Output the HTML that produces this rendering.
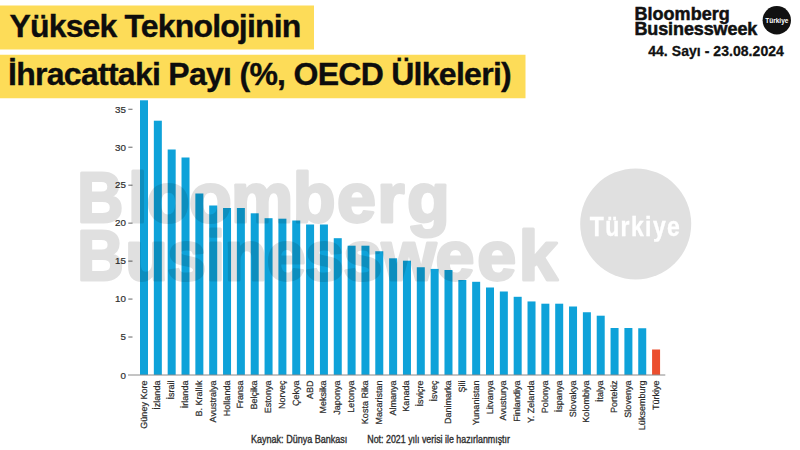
<!DOCTYPE html>
<html><head><meta charset="utf-8">
<style>
html,body{margin:0;padding:0;background:#fff;}
body{width:800px;height:450px;position:relative;overflow:hidden;font-family:"Liberation Sans",Arial,sans-serif;}
svg{position:absolute;left:0;top:0;}
</style></head><body>
<svg width="800" height="450" viewBox="0 0 800 450">
<g font-family="Liberation Sans, Arial, sans-serif">
<rect x="0" y="5.5" width="314" height="44" fill="#fddc58"/>
<rect x="0" y="54.75" width="525.5" height="43.5" fill="#fddc58"/>
<g font-weight="bold" font-size="32" fill="#0d0d0d" stroke="#0d0d0d" stroke-width="0.35" letter-spacing="-0.85">
<text x="9.5" y="37.2">Yüksek Teknolojinin</text>
<text x="8" y="84.5" letter-spacing="-0.72">İhracattaki Payı (%, OECD Ülkeleri)</text>
</g>
<g><rect x="140.00" y="100.30" width="8.0" height="274.70" fill="#0ea2d9"/>
<rect x="153.84" y="120.70" width="8.0" height="254.30" fill="#0ea2d9"/>
<rect x="167.68" y="149.50" width="8.0" height="225.50" fill="#0ea2d9"/>
<rect x="181.52" y="157.50" width="8.0" height="217.50" fill="#0ea2d9"/>
<rect x="195.36" y="193.50" width="8.0" height="181.50" fill="#0ea2d9"/>
<rect x="209.20" y="205.50" width="8.0" height="169.50" fill="#0ea2d9"/>
<rect x="223.04" y="208.00" width="8.0" height="167.00" fill="#0ea2d9"/>
<rect x="236.88" y="208.00" width="8.0" height="167.00" fill="#0ea2d9"/>
<rect x="250.72" y="213.30" width="8.0" height="161.70" fill="#0ea2d9"/>
<rect x="264.56" y="218.20" width="8.0" height="156.80" fill="#0ea2d9"/>
<rect x="278.40" y="218.70" width="8.0" height="156.30" fill="#0ea2d9"/>
<rect x="292.24" y="220.50" width="8.0" height="154.50" fill="#0ea2d9"/>
<rect x="306.08" y="224.50" width="8.0" height="150.50" fill="#0ea2d9"/>
<rect x="319.92" y="224.50" width="8.0" height="150.50" fill="#0ea2d9"/>
<rect x="333.76" y="238.20" width="8.0" height="136.80" fill="#0ea2d9"/>
<rect x="347.60" y="245.70" width="8.0" height="129.30" fill="#0ea2d9"/>
<rect x="361.44" y="245.70" width="8.0" height="129.30" fill="#0ea2d9"/>
<rect x="375.28" y="251.25" width="8.0" height="123.75" fill="#0ea2d9"/>
<rect x="389.12" y="258.30" width="8.0" height="116.70" fill="#0ea2d9"/>
<rect x="402.96" y="260.70" width="8.0" height="114.30" fill="#0ea2d9"/>
<rect x="416.80" y="267.25" width="8.0" height="107.75" fill="#0ea2d9"/>
<rect x="430.64" y="268.90" width="8.0" height="106.10" fill="#0ea2d9"/>
<rect x="444.48" y="270.00" width="8.0" height="105.00" fill="#0ea2d9"/>
<rect x="458.32" y="280.00" width="8.0" height="95.00" fill="#0ea2d9"/>
<rect x="472.16" y="281.80" width="8.0" height="93.20" fill="#0ea2d9"/>
<rect x="486.00" y="287.50" width="8.0" height="87.50" fill="#0ea2d9"/>
<rect x="499.84" y="291.50" width="8.0" height="83.50" fill="#0ea2d9"/>
<rect x="513.68" y="296.80" width="8.0" height="78.20" fill="#0ea2d9"/>
<rect x="527.52" y="301.45" width="8.0" height="73.55" fill="#0ea2d9"/>
<rect x="541.36" y="303.70" width="8.0" height="71.30" fill="#0ea2d9"/>
<rect x="555.20" y="303.70" width="8.0" height="71.30" fill="#0ea2d9"/>
<rect x="569.04" y="306.50" width="8.0" height="68.50" fill="#0ea2d9"/>
<rect x="582.88" y="312.25" width="8.0" height="62.75" fill="#0ea2d9"/>
<rect x="596.72" y="315.70" width="8.0" height="59.30" fill="#0ea2d9"/>
<rect x="610.56" y="328.00" width="8.0" height="47.00" fill="#0ea2d9"/>
<rect x="624.40" y="328.00" width="8.0" height="47.00" fill="#0ea2d9"/>
<rect x="638.24" y="328.25" width="8.0" height="46.75" fill="#0ea2d9"/>
<rect x="652.08" y="349.50" width="8.0" height="25.50" fill="#eb4e2e"/></g>
<line x1="128" x2="665.3" y1="375" y2="375" stroke="#8a8a8a" stroke-width="1"/>
<g font-size="9.8" fill="#2e2e2e" stroke-width="0.2"><text x="126" y="378.8" text-anchor="end" stroke="#2e2e2e">0</text>
<text x="126" y="340.33" text-anchor="end" stroke="#2e2e2e">5</text><line x1="128.3" x2="132.5" y1="337.03" y2="337.03" stroke="#666" stroke-width="1"/>
<text x="126" y="302.37" text-anchor="end" stroke="#2e2e2e">10</text><line x1="128.3" x2="132.5" y1="299.07" y2="299.07" stroke="#666" stroke-width="1"/>
<text x="126" y="264.41" text-anchor="end" stroke="#2e2e2e">15</text><line x1="128.3" x2="132.5" y1="261.11" y2="261.11" stroke="#666" stroke-width="1"/>
<text x="126" y="226.44" text-anchor="end" stroke="#2e2e2e">20</text><line x1="128.3" x2="132.5" y1="223.14" y2="223.14" stroke="#666" stroke-width="1"/>
<text x="126" y="188.48" text-anchor="end" stroke="#2e2e2e">25</text><line x1="128.3" x2="132.5" y1="185.18" y2="185.18" stroke="#666" stroke-width="1"/>
<text x="126" y="150.51" text-anchor="end" stroke="#2e2e2e">30</text><line x1="128.3" x2="132.5" y1="147.21" y2="147.21" stroke="#666" stroke-width="1"/>
<text x="126" y="112.55" text-anchor="end" stroke="#2e2e2e">35</text><line x1="128.3" x2="132.5" y1="109.25" y2="109.25" stroke="#666" stroke-width="1"/></g>
<g font-size="9" fill="#2a2a2a" stroke="#2a2a2a" stroke-width="0.2" text-rendering="geometricPrecision"><text transform="translate(146.50,380.6) rotate(-90)" text-anchor="end">Güney Kore</text>
<text transform="translate(160.34,380.6) rotate(-90)" text-anchor="end">İzlanda</text>
<text transform="translate(174.18,380.6) rotate(-90)" text-anchor="end">İsrail</text>
<text transform="translate(188.02,380.6) rotate(-90)" text-anchor="end">İrlanda</text>
<text transform="translate(201.86,380.6) rotate(-90)" text-anchor="end">B. Krallık</text>
<text transform="translate(215.70,380.6) rotate(-90)" text-anchor="end">Avustralya</text>
<text transform="translate(229.54,380.6) rotate(-90)" text-anchor="end">Hollanda</text>
<text transform="translate(243.38,380.6) rotate(-90)" text-anchor="end">Fransa</text>
<text transform="translate(257.22,380.6) rotate(-90)" text-anchor="end">Belçika</text>
<text transform="translate(271.06,380.6) rotate(-90)" text-anchor="end">Estonya</text>
<text transform="translate(284.90,380.6) rotate(-90)" text-anchor="end">Norveç</text>
<text transform="translate(298.74,380.6) rotate(-90)" text-anchor="end">Çekya</text>
<text transform="translate(312.58,380.6) rotate(-90)" text-anchor="end">ABD</text>
<text transform="translate(326.42,380.6) rotate(-90)" text-anchor="end">Meksika</text>
<text transform="translate(340.26,380.6) rotate(-90)" text-anchor="end">Japonya</text>
<text transform="translate(354.10,380.6) rotate(-90)" text-anchor="end">Letonya</text>
<text transform="translate(367.94,380.6) rotate(-90)" text-anchor="end">Kosta Rika</text>
<text transform="translate(381.78,380.6) rotate(-90)" text-anchor="end">Macaristan</text>
<text transform="translate(395.62,380.6) rotate(-90)" text-anchor="end">Almanya</text>
<text transform="translate(409.46,380.6) rotate(-90)" text-anchor="end">Kanada</text>
<text transform="translate(423.30,380.6) rotate(-90)" text-anchor="end">İsviçre</text>
<text transform="translate(437.14,380.6) rotate(-90)" text-anchor="end">İsveç</text>
<text transform="translate(450.98,380.6) rotate(-90)" text-anchor="end">Danimarka</text>
<text transform="translate(464.82,380.6) rotate(-90)" text-anchor="end">Şili</text>
<text transform="translate(478.66,380.6) rotate(-90)" text-anchor="end">Yunanistan</text>
<text transform="translate(492.50,380.6) rotate(-90)" text-anchor="end">Litvanya</text>
<text transform="translate(506.34,380.6) rotate(-90)" text-anchor="end">Avusturya</text>
<text transform="translate(520.18,380.6) rotate(-90)" text-anchor="end">Finlandiya</text>
<text transform="translate(534.02,380.6) rotate(-90)" text-anchor="end">Y. Zelanda</text>
<text transform="translate(547.86,380.6) rotate(-90)" text-anchor="end">Polonya</text>
<text transform="translate(561.70,380.6) rotate(-90)" text-anchor="end">İspanya</text>
<text transform="translate(575.54,380.6) rotate(-90)" text-anchor="end">Slovakya</text>
<text transform="translate(589.38,380.6) rotate(-90)" text-anchor="end">Kolombiya</text>
<text transform="translate(603.22,380.6) rotate(-90)" text-anchor="end">İtalya</text>
<text transform="translate(617.06,380.6) rotate(-90)" text-anchor="end">Portekiz</text>
<text transform="translate(630.90,380.6) rotate(-90)" text-anchor="end">Slovenya</text>
<text transform="translate(644.74,380.6) rotate(-90)" text-anchor="end">Lüksemburg</text>
<text transform="translate(658.58,380.6) rotate(-90)" text-anchor="end">Türkiye</text></g>
<g font-size="10" fill="#2e2e2e" stroke="#2e2e2e" stroke-width="0.35"><text transform="translate(251,443.3) scale(0.905,1)">Kaynak: Dünya Bankası</text><text transform="translate(367.3,443.3) scale(0.886,1)">Not: 2021 yılı verisi ile hazırlanmıştır</text></g>
<g opacity="0.125">
<g fill="#000" stroke="#000" stroke-width="3" stroke-linejoin="round" font-weight="bold" font-size="70" letter-spacing="-0.6">
<text transform="translate(77.3,221.7) scale(0.91,1)">B</text><text x="127.96" y="221.7">loomb<tspan dx="2">e</tspan><tspan dx="2">r</tspan><tspan dx="3">g</tspan></text>
<text transform="translate(77.3,280.2) scale(0.92,1)">B</text><text x="125.2" y="280.2">usinesswe<tspan dx="3.5">e</tspan><tspan dx="3">k</tspan></text>
</g>
<circle cx="635.7" cy="223.9" r="55.5" fill="#000"/>
</g>
<text transform="translate(635.5,235.8) scale(0.82,1)" text-anchor="middle" fill="#fff" stroke="#fff" stroke-width="0.4" font-weight="bold" font-size="28" letter-spacing="1.7">Türkiye</text>
<g font-weight="bold" fill="#111">
<g stroke="#111" stroke-width="0.5" font-size="18">
<text x="634.4" y="20" letter-spacing="0.05">Bloomberg</text>
<text x="634.4" y="34.7" letter-spacing="-0.1">Businessweek</text>
</g>
<circle cx="776.8" cy="20.25" r="14.2" fill="#111"/>
<text x="776.8" y="23.2" font-size="6.5" fill="#fff" text-anchor="middle">Türkiye</text>
<text x="648.2" y="56" font-size="14" letter-spacing="0.05" stroke="#111" stroke-width="0.3">44. Sayı - 23.08.2024</text>
</g>
</g>
</svg>
</body></html>
